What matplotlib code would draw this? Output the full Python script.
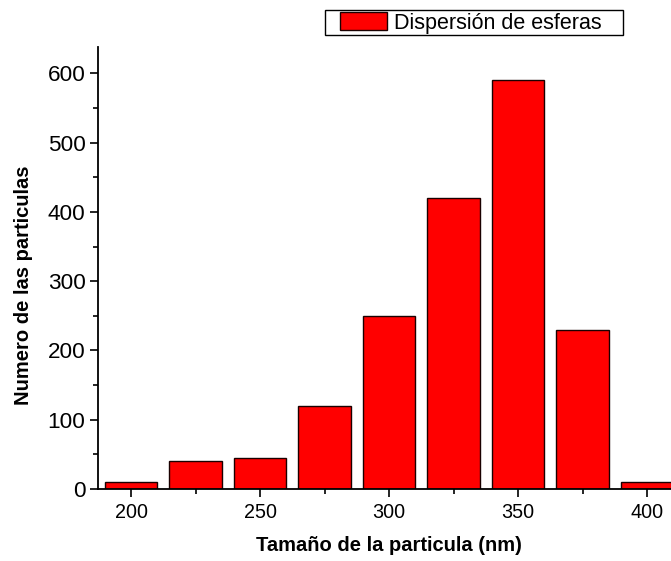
import matplotlib
matplotlib.use("Agg")
import matplotlib.pyplot as plt
from matplotlib.patches import Rectangle
from matplotlib.ticker import MultipleLocator

# Histogram data
sizes = [200, 225, 250, 275, 300, 325, 350, 375, 400]
counts = [10, 40, 45, 120, 250, 420, 590, 230, 10]

plt.rcParams['font.family'] = ['Liberation Sans', 'DejaVu Sans']

W, H = 671, 561
fig = plt.figure(figsize=(W / 100, H / 100), dpi=100)
ax = fig.add_axes([98 / W, 1 - 489 / H, 1 - 98 / W, (489 - 47) / H])

ax.bar(sizes, counts, width=20.5, color='#ff0000', edgecolor='#1a0000',
       linewidth=1.0, label='Dispersión de esferas')

ax.set_xlim(187.2, 409.3)
ax.set_ylim(0, 638)

ax.xaxis.set_major_locator(MultipleLocator(50))
ax.xaxis.set_minor_locator(MultipleLocator(25))
ax.yaxis.set_major_locator(MultipleLocator(100))
ax.yaxis.set_minor_locator(MultipleLocator(50))
ax.tick_params(which='major', direction='out', length=6, width=1.2)
ax.tick_params(which='minor', direction='out', length=3.5, width=1.2)
ax.tick_params(axis='x', labelsize=14.2, pad=4)
ax.tick_params(axis='y', labelsize=16.2, pad=3)

for s in ['top', 'right']:
    ax.spines[s].set_visible(False)
for s in ['left', 'bottom']:
    ax.spines[s].set_linewidth(1.3)

ax.set_xlabel('Tamaño de la particula (nm)', fontsize=14.5, fontweight='bold')
ax.set_ylabel('Numero de las particulas', fontsize=14.5, fontweight='bold')
ax.xaxis.set_label_coords(389 / W, 1 - 536 / H, transform=fig.transFigure)
ax.yaxis.set_label_coords(33 / W, 1 - 285 / H, transform=fig.transFigure)

# legend box sits above the plot, frame drawn as a plain rectangle
leg = ax.legend(loc='center', bbox_to_anchor=(471 / W, 1 - 23 / H),
                bbox_transform=fig.transFigure, fontsize=15.5, frameon=False,
                handlelength=2.2, handleheight=0.88, borderpad=0.0,
                handletextpad=0.33, borderaxespad=0)
fig.patches.append(Rectangle((325 / W, 1 - 35 / H), 298 / W, 25 / H,
                             transform=fig.transFigure, fill=False,
                             edgecolor='black', linewidth=1.0))

fig.savefig('out.png', dpi=100)
